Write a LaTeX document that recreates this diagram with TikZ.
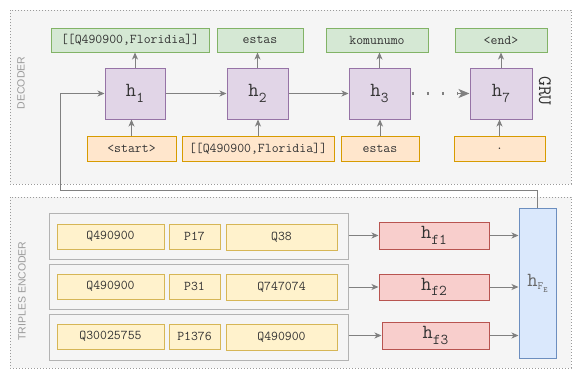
\documentclass[tikz,border=0pt]{standalone}
\usepackage{fontspec}
\setmainfont{Liberation Sans}
\usetikzlibrary{arrows.meta}

\definecolor{panelfill}{HTML}{F5F5F5}
\definecolor{paneldraw}{HTML}{9A9A9A}
\definecolor{greenfill}{HTML}{D5E8D4}
\definecolor{greendraw}{HTML}{82B366}
\definecolor{purplefill}{HTML}{E1D5E7}
\definecolor{purpledraw}{HTML}{9673A6}
\definecolor{orangefill}{HTML}{FFE6CC}
\definecolor{orangedraw}{HTML}{D79B00}
\definecolor{yellowfill}{HTML}{FFF2CC}
\definecolor{yellowdraw}{HTML}{D6B656}
\definecolor{redfill}{HTML}{F8CECC}
\definecolor{reddraw}{HTML}{B85450}
\definecolor{bluefill}{HTML}{DAE8FC}
\definecolor{bluedraw}{HTML}{6C8EBF}
\definecolor{rowdraw}{HTML}{B3B3B3}
\definecolor{txt}{HTML}{333333}
\definecolor{wire}{HTML}{808080}

% typewriter face with a slightly heavier stroke
\newcommand{\tw}{\ttfamily\addfontfeature{FakeBold=1}}
\newcommand{\hsym}[1]{{\addfontfeature{FakeBold=1.6}\fontsize{20}{20}\selectfont h}\raisebox{-5.5pt}{\addfontfeature{FakeBold=1.4}\fontsize{15}{15}\selectfont #1}}

\tikzset{
  box/.style={draw, line width=1pt, inner sep=0pt, text=txt,
    font=\tw\fontsize{13.4}{14}\selectfont},
  outbox/.style={box, fill=greenfill, draw=greendraw},
  cellbox/.style={box, fill=purplefill, draw=purpledraw},
  inbox/.style={box, fill=orangefill, draw=orangedraw},
  tokbox/.style={box, fill=yellowfill, draw=yellowdraw},
  factbox/.style={box, fill=redfill, draw=reddraw},
  poolbox/.style={box, fill=bluefill, draw=bluedraw},
  rowbox/.style={draw=rowdraw, fill=panelfill, line width=1pt, inner sep=0pt},
  panel/.style={fill=panelfill, draw=paneldraw, line width=0.8pt, dash pattern=on 0.8pt off 2.2pt},
  panellabel/.style={text=paneldraw, font=\fontsize{10.5}{11}\selectfont, inner sep=0pt},
  link/.style={draw=wire, line width=1pt, -{Stealth[length=7pt,width=6pt,inset=2pt]}},
}

\begin{document}
\begin{tikzpicture}[x=1pt, y=-1pt]
\useasboundingbox (0,0) rectangle (574,370);

% panels
\path[panel] (10,10) rectangle (571,184);
\path[panel] (10,197) rectangle (571,368);
\node[panellabel, rotate=90] (declabel) at (21,83) {DECODER};
\node[panellabel, rotate=90] (enclabel) at (22,291) {TRIPLES ENCODER};
\node[inner sep=0pt, rotate=-90, text=txt, font=\ttfamily\addfontfeature{FakeBold=2}\fontsize{19}{19}\selectfont] (gru) at (545,91) {GRU};

% decoder outputs
\node[outbox, minimum width=158pt, minimum height=24pt] (o1) at (130,40) {[[Q490900,Floridia]]};
\node[outbox, minimum width=86pt, minimum height=24pt] (o2) at (260,40) {estas};
\node[outbox, minimum width=102pt, minimum height=24pt] (o3) at (377,40) {komunumo};
\node[outbox, minimum width=92pt, minimum height=24pt] (o4) at (501,40) {<end>};

% recurrent cells
\node[cellbox, minimum width=60pt, minimum height=51pt] (h1) at (135,93.5) {\hsym{1}};
\node[cellbox, minimum width=61pt, minimum height=51pt] (h2) at (257.5,93.5) {\hsym{2}};
\node[cellbox, minimum width=61pt, minimum height=51pt] (h3) at (379.5,93.5) {\hsym{3}};
\node[cellbox, minimum width=62pt, minimum height=51pt] (h7) at (501,93.5) {\hsym{7}};

% decoder inputs
\node[inbox, minimum width=89pt, minimum height=25pt] (i1) at (131.5,148.5) {<start>};
\node[inbox, minimum width=152pt, minimum height=25pt] (i2) at (258,148.5) {[[Q490900,Floridia]]};
\node[inbox, minimum width=78pt, minimum height=25pt] (i3) at (380,148.5) {estas};
\node[inbox, minimum width=91pt, minimum height=25pt] (i4) at (499.5,148.5) {.};

% decoder connectors
\foreach \c/\o in {h1/o1, h2/o2, h3/o3, h7/o4}
  \draw[link] (\c.north) -- (\c.north |- \o.south);
\foreach \i/\c in {i1/h1, i2/h2, i3/h3, i4/h7}
  \draw[link] (\i.north) -- (\i.north |- \c.south);
\draw[link] (h1.east) -- (h2.west);
\draw[link] (h2.east) -- (h3.west);
\draw[draw=wire, line width=2.2pt, dash pattern=on 2.2pt off 13pt, dash phase=-1pt] (h3.east) -- ([xshift=-12pt]h7.west);
\draw[link, -{Stealth[length=11pt,width=9pt,inset=3pt]}] ([xshift=-12pt]h7.west) -- (h7.west);

% triples
\node[rowbox, minimum width=299pt, minimum height=46pt] (row1) at (198.5,236) {};
\node[rowbox, minimum width=299pt, minimum height=45pt] (row2) at (198.5,286.5) {};
\node[rowbox, minimum width=299pt, minimum height=46pt] (row3) at (198.5,337) {};

\node[tokbox, minimum width=107pt, minimum height=25pt] (s1) at (110.5,236.5) {Q490900};
\node[tokbox, minimum width=51pt, minimum height=25pt] (p1) at (194.5,236.5) {P17};
\node[tokbox, minimum width=111pt, minimum height=26pt] (t1) at (281.5,237) {Q38};
\node[tokbox, minimum width=107pt, minimum height=25pt] (s2) at (110.5,286.5) {Q490900};
\node[tokbox, minimum width=51pt, minimum height=25pt] (p2) at (194.5,286.5) {P31};
\node[tokbox, minimum width=111pt, minimum height=26pt] (t2) at (281.5,287) {Q747074};
\node[tokbox, minimum width=107pt, minimum height=25pt] (s3) at (110.5,336.5) {Q30025755};
\node[tokbox, minimum width=51pt, minimum height=25pt] (p3) at (194.5,336.5) {P1376};
\node[tokbox, minimum width=111pt, minimum height=26pt] (t3) at (281.5,337) {Q490900};

% fact encodings
\node[factbox, minimum width=110pt, minimum height=27pt] (f1) at (434,235.5) {\hsym{f1}};
\node[factbox, minimum width=110pt, minimum height=26pt] (f2) at (434,287) {\hsym{f2}};
\node[factbox, minimum width=107pt, minimum height=27pt] (f3) at (435.5,335.5) {\hsym{f3}};

% pooled encoding
\node[poolbox, minimum width=37pt, minimum height=150pt, text=black!60] (hfe) at (537.5,283)
  {{\addfontfeature{FakeBold=1.4}\fontsize{20}{20}\selectfont h}\raisebox{-3pt}{\fontsize{11}{11}\selectfont F\raisebox{-3pt}{\fontsize{8}{8}\selectfont E}}};

% encoder connectors
\draw[link] (row1.east |- f1.west) -- (f1.west);
\draw[link] (row2.east |- f2.west) -- (f2.west);
\draw[link] (row3.east |- f3.west) -- (f3.west);
\foreach \f in {f1, f2, f3}
  \draw[link] (\f.east) -- (\f.east -| hfe.west);

% encoder state feeds the first decoder cell
\coordinate (turn) at (60,190);
\draw[link] (hfe.north) |- (turn) |- (h1.west);
\end{tikzpicture}
\end{document}
